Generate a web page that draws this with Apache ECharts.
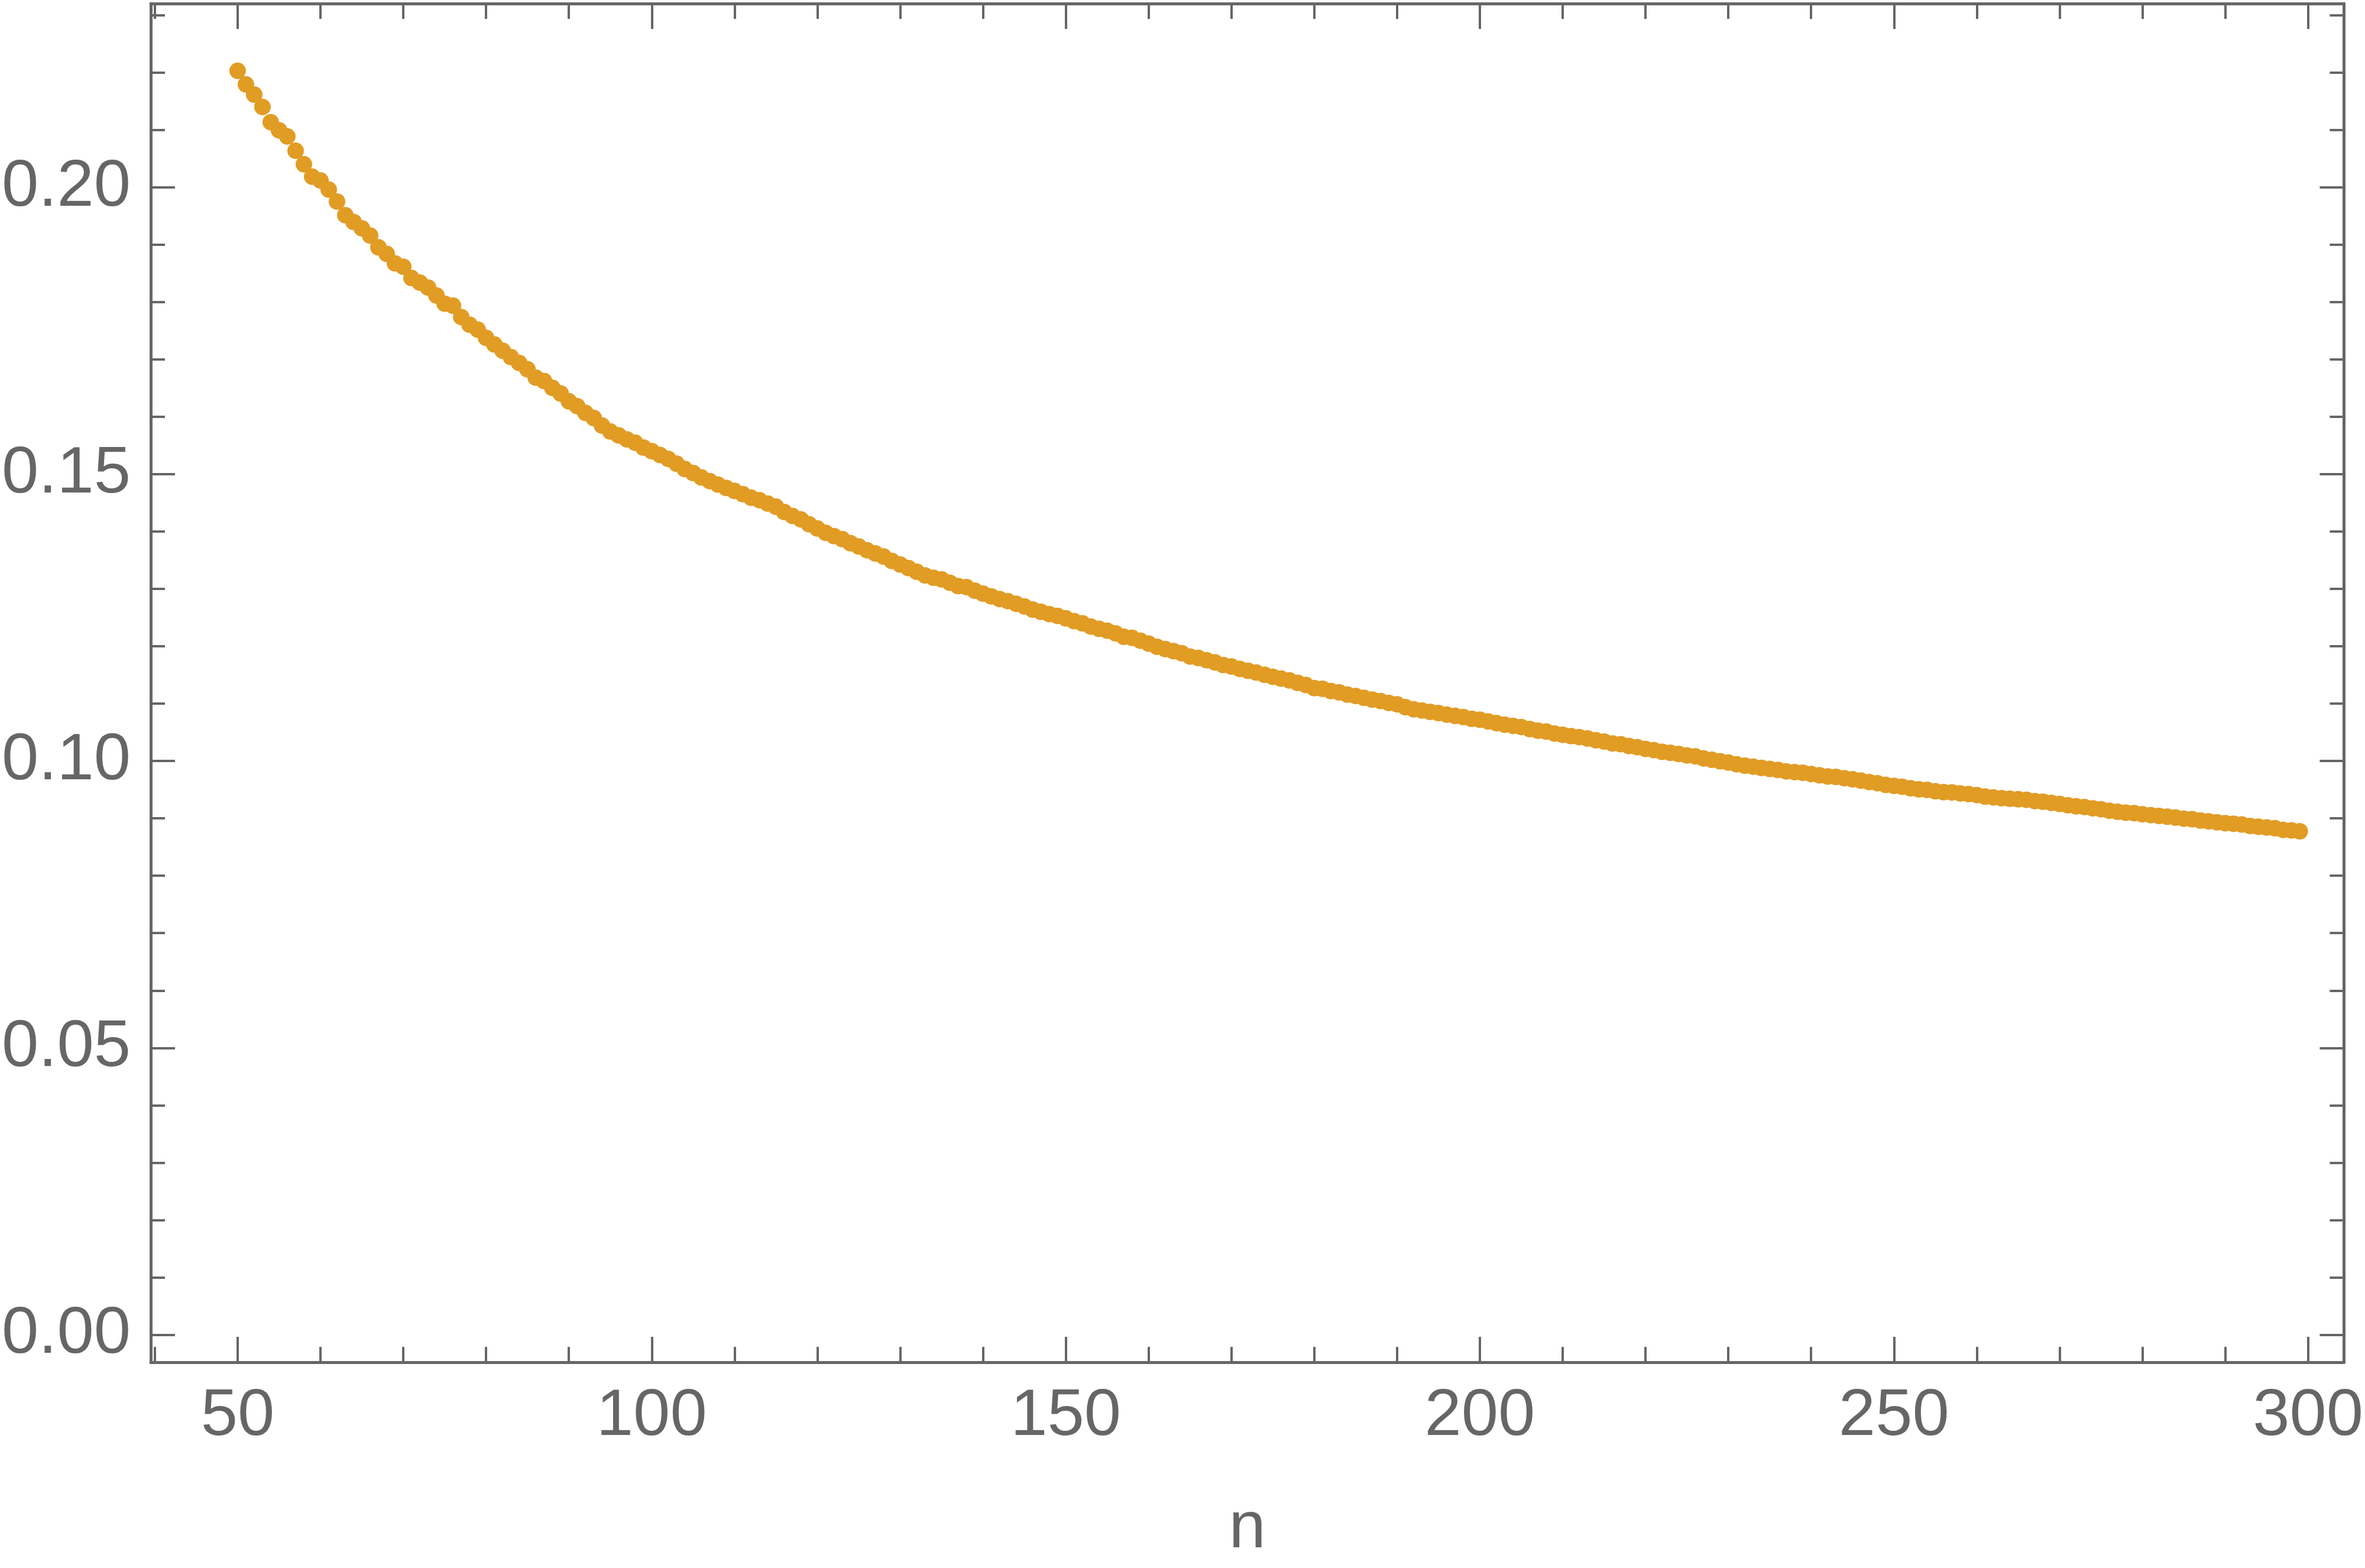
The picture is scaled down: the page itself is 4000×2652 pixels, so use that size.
<!DOCTYPE html>
<html>
<head>
<meta charset="utf-8">
<script src="https://cdn.jsdelivr.net/npm/echarts@6/dist/echarts.min.js"></script>
<style>
html,body{margin:0;padding:0;background:#fff;}
#chart{width:4000px;height:2652px;}
</style>
</head>
<body>
<div id="chart"></div>
<script>
// n runs 50..299 (one point per n)
const nFirst = 50;
const vals50to99 = [
0.22031,0.21794,0.21617,0.21401,0.21136,0.20994,0.20887,0.20639,0.20402,0.20186,
0.20119,0.19961,0.19752,0.19515,0.19397,0.19286,0.19160,0.18955,0.18840,0.18675,
0.18616,0.18418,0.18340,0.18253,0.18115,0.17972,0.17937,0.17740,0.17606,0.17519,
0.17377,0.17262,0.17152,0.17042,0.16939,0.16829,0.16683,0.16624,0.16505,0.16407,
0.16270,0.16186,0.16069,0.15979,0.15847,0.15744,0.15678,0.15606,0.15548,0.15464];
const vals100to149 = [
0.15402,0.15335,0.15266,0.15182,0.15090,0.15021,0.14943,0.14880,0.14818,0.14760,
0.14708,0.14652,0.14590,0.14547,0.14488,0.14433,0.14341,0.14272,0.14212,0.14127,
0.14054,0.13978,0.13921,0.13869,0.13797,0.13739,0.13674,0.13619,0.13564,0.13487,
0.13426,0.13364,0.13299,0.13236,0.13195,0.13166,0.13107,0.13049,0.13032,0.12970,
0.12918,0.12870,0.12824,0.12788,0.12741,0.12695,0.12640,0.12601,0.12561,0.12530];
const vals150to199 = [
0.12487,0.12439,0.12400,0.12344,0.12305,0.12272,0.12226,0.12166,0.12147,0.12097,
0.12047,0.11991,0.11952,0.11916,0.11879,0.11821,0.11797,0.11757,0.11720,0.11674,
0.11647,0.11607,0.11572,0.11542,0.11503,0.11468,0.11436,0.11406,0.11362,0.11325,
0.11272,0.11259,0.11219,0.11197,0.11158,0.11133,0.11102,0.11070,0.11046,0.11012,
0.10989,0.10939,0.10902,0.10881,0.10857,0.10836,0.10809,0.10787,0.10766,0.10735];
const vals200to249 = [
0.10720,0.10690,0.10661,0.10634,0.10613,0.10592,0.10558,0.10529,0.10514,0.10479,
0.10457,0.10434,0.10417,0.10393,0.10362,0.10340,0.10306,0.10293,0.10262,0.10242,
0.10211,0.10190,0.10161,0.10143,0.10122,0.10098,0.10082,0.10046,0.10022,0.09996,
0.09973,0.09943,0.09919,0.09902,0.09880,0.09862,0.09844,0.09819,0.09806,0.09795,
0.09773,0.09751,0.09730,0.09723,0.09701,0.09682,0.09658,0.09634,0.09613,0.09584];
const vals250to299 = [
0.09567,0.09551,0.09524,0.09507,0.09496,0.09473,0.09458,0.09452,0.09435,0.09424,
0.09407,0.09380,0.09366,0.09352,0.09342,0.09334,0.09325,0.09301,0.09290,0.09271,
0.09252,0.09229,0.09210,0.09198,0.09175,0.09160,0.09134,0.09115,0.09100,0.09091,
0.09072,0.09057,0.09043,0.09030,0.09014,0.08995,0.08986,0.08962,0.08948,0.08931,
0.08916,0.08906,0.08893,0.08868,0.08854,0.08842,0.08828,0.08799,0.08790,0.08775];

const xMajorTicks = [50,100,150,200,250,300];
const xMinorTicks = [40,60,70,80,90,110,120,130,140,160,170,180,190,210,220,230,240,260,270,280,290];
const yMajorTicks = [0,0.05,0.1,0.15,0.2];
const yMinorTicks = [0.01,0.02,0.03,0.04,0.06,0.07,0.08,0.09,0.11,0.12,0.13,0.14,0.16,0.17,0.18,0.19,0.21,0.22,0.23];
const xName = 'n';

const allVals = [].concat(vals50to99, vals100to149, vals150to199, vals200to249, vals250to299);
const points = allVals.map((v, i) => [nFirst + i, v]);

const GRAY = '#666666';
const FONT = "'Liberation Sans', Arial, sans-serif";
const X_MIN = 39.51, X_MAX = 304.34;
const Y_MIN = -0.0048, Y_MAX = 0.23204;

function xAx(pos, ticks, len, showLine, labels) {
  return {
    type: 'value', position: pos, min: X_MIN, max: X_MAX,
    axisLine: {show: showLine, onZero: false, lineStyle: {color: GRAY, width: 5}},
    axisTick: {show: true, inside: true, length: len, customValues: ticks, lineStyle: {color: GRAY, width: 4}},
    axisLabel: labels ? {show: true, customValues: ticks, color: GRAY, fontSize: 112, fontFamily: FONT, margin: 36} : {show: false},
    splitLine: {show: false}
  };
}
function yAx(pos, ticks, len, showLine, labels) {
  return {
    type: 'value', position: pos, min: Y_MIN, max: Y_MAX,
    axisLine: {show: showLine, onZero: false, lineStyle: {color: GRAY, width: 5}},
    axisTick: {show: true, inside: true, length: len, customValues: ticks, lineStyle: {color: GRAY, width: 4}},
    axisLabel: labels ? {show: true, customValues: ticks, color: GRAY, fontSize: 112, fontFamily: FONT, margin: 34,
      formatter: v => v.toFixed(2)} : {show: false},
    splitLine: {show: false}
  };
}

const xBottom = xAx('bottom', xMajorTicks, 43, true, true);
xBottom.name = xName;
xBottom.nameLocation = 'middle';
xBottom.nameGap = 226;
xBottom.nameTextStyle = {color: GRAY, fontSize: 112, fontFamily: FONT};

const chart = echarts.init(document.getElementById('chart'), null, {renderer: 'canvas', devicePixelRatio: 1});
chart.setOption({
  animation: false,
  backgroundColor: '#ffffff',
  grid: {left: 250, right: 32, top: 6, bottom: 348, containLabel: false},
  xAxis: [
    xBottom,
    xAx('bottom', xMinorTicks, 26, false, false),
    xAx('top', xMajorTicks, 43, true, false),
    xAx('top', xMinorTicks, 26, false, false)
  ],
  yAxis: [
    yAx('left', yMajorTicks, 41, true, true),
    yAx('left', yMinorTicks, 24, false, false),
    yAx('right', yMajorTicks, 41, true, false),
    yAx('right', yMinorTicks, 24, false, false)
  ],
  series: [{
    type: 'scatter',
    xAxisIndex: 0, yAxisIndex: 0,
    data: points,
    symbol: 'circle',
    symbolSize: 28,
    itemStyle: {color: '#E19C24', opacity: 1},
    silent: true
  }]
});
</script>
</body>
</html>
